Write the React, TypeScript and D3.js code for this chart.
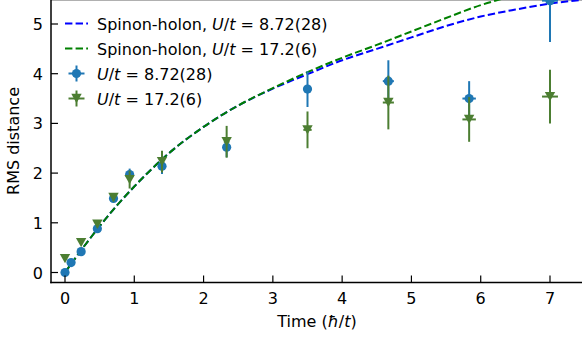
import React from "react";
import * as d3 from "d3";

const blueT = [0, 0.0875, 0.233, 0.467, 0.7, 0.933, 1.4, 2.333, 3.5, 4.667, 5.833, 7.0];
const blueV = [0, 0.2, 0.42, 0.88, 1.49, 1.97, 2.14, 2.52, 3.69, 3.85, 3.5, 5.47];
const blueErr = [0.02, 0.03, 0.04, 0.05, 0.06, 0.12, 0.16, 0.2, 0.36, 0.42, 0.35, 0.83];
const blueXErr = [0, 0.002, 0.004, 0.008, 0.012, 0.016, 0.024, 0.04, 0.06, 0.08, 0.097, 0.115];

const greenT = [0, 0.233, 0.467, 0.7, 0.933, 1.4, 2.333, 3.5, 4.667, 5.833, 7.0];
const greenV = [0.28, 0.6, 0.97, 1.51, 1.87, 2.23, 2.63, 2.87, 3.42, 3.08, 3.54];
const greenErr = [0.03, 0.04, 0.06, 0.08, 0.18, 0.22, 0.32, 0.37, 0.54, 0.45, 0.54];
const greenXErr = [0, 0.004, 0.008, 0.012, 0.016, 0.024, 0.04, 0.06, 0.08, 0.097, 0.115];

const curveT = [0, 0.25, 0.5, 0.75, 1.0, 1.5, 2.0, 2.5, 3.0, 3.5, 4.0, 4.5, 5.0, 5.5, 6.0, 6.5, 7.0, 7.5];
const curveBlue = [0, 0.48, 0.93, 1.35, 1.73, 2.4, 2.93, 3.36, 3.7, 3.99, 4.27, 4.5, 4.73, 4.96, 5.15, 5.29, 5.41, 5.49];
const curveGreen = [0, 0.48, 0.93, 1.35, 1.73, 2.4, 2.93, 3.36, 3.71, 4.03, 4.32, 4.58, 4.85, 5.12, 5.38, 5.58, 5.77, 5.95];

const xTicks = [0, 1, 2, 3, 4, 5, 6, 7];
const yTicks = [0, 1, 2, 3, 4, 5];

const W = 582;
const H = 337;
const LEFT = 51;
const BOTTOM = 282.5;
const FONT = "DejaVu Sans";
const FS = 16;

const BLUE = "#1f77b4";
const GREEN = "#4c7e32";

export default function App() {
  const x = d3.scaleLinear().domain([0, 7]).range([65, 550]);
  const y = d3.scaleLinear().domain([0, 5]).range([272.5, 24]);

  const lineB = d3
    .line<number>()
    .x((_, i) => x(curveT[i]))
    .y((d) => y(d))
    .curve(d3.curveMonotoneX);

  const tri = (cx: number, cy: number, r: number) =>
    `M${cx - r},${cy - r * 0.9} L${cx + r},${cy - r * 0.9} L${cx},${cy + r * 0.9} Z`;

  const errGroup = (
    ts: number[],
    vs: number[],
    es: number[],
    xes: number[],
    color: string,
    kind: "circle" | "tri"
  ) =>
    ts.map((t, i) => {
      const cx = x(t);
      const cy = y(vs[i]);
      return (
        <g key={i}>
          <line x1={cx} x2={cx} y1={y(vs[i] - es[i])} y2={y(vs[i] + es[i])} stroke={color} strokeWidth={2} />
          <line x1={x(t - xes[i])} x2={x(t + xes[i])} y1={cy} y2={cy} stroke={color} strokeWidth={2} />
          {kind === "circle" ? (
            <circle cx={cx} cy={cy} r={4.6} fill={color} />
          ) : (
            <path d={tri(cx, cy, 5.2)} fill={color} />
          )}
        </g>
      );
    });

  const legendItems = [
    { kind: "line", color: "#0000ff", pre: "Spinon-holon, ", val: "8.72(28)" },
    { kind: "line", color: "#008000", pre: "Spinon-holon, ", val: "17.2(6)" },
    { kind: "circle", color: BLUE, pre: "", val: "8.72(28)" },
    { kind: "tri", color: GREEN, pre: "", val: "17.2(6)" },
  ];

  return (
    <svg
      width={W}
      height={H}
      style={{ position: "fixed", left: 0, top: 0, background: "#fff" }}
      fontFamily={FONT}
    >
      <defs>
        <clipPath id="plot">
          <rect x={LEFT} y={0} width={W - LEFT} height={BOTTOM} />
        </clipPath>
      </defs>
      <rect x={0} y={0} width={W} height={H} fill="#fff" />
      <line x1={LEFT} x2={W} y1={0.5} y2={0.5} stroke="#b0b0b0" strokeWidth={1} />

      <g clipPath="url(#plot)">
        <path d={lineB(curveBlue) || ""} fill="none" stroke="#0000ff" strokeWidth={2} strokeDasharray="7.4,3.2" />
        <path d={lineB(curveGreen) || ""} fill="none" stroke="#008000" strokeWidth={2} strokeDasharray="7.4,3.2" />
        {errGroup(blueT, blueV, blueErr, blueXErr, BLUE, "circle")}
        {errGroup(greenT, greenV, greenErr, greenXErr, GREEN, "tri")}
      </g>

      {/* spines */}
      <line x1={LEFT} x2={LEFT} y1={0} y2={BOTTOM + 0.75} stroke="#000" strokeWidth={1.5} />
      <line x1={LEFT - 0.75} x2={W} y1={BOTTOM} y2={BOTTOM} stroke="#000" strokeWidth={1.5} />

      {/* ticks */}
      {xTicks.map((t) => (
        <g key={"x" + t}>
          <line x1={x(t)} x2={x(t)} y1={BOTTOM} y2={BOTTOM - 7} stroke="#000" strokeWidth={1.2} />
          <text x={x(t)} y={304} textAnchor="middle" fontSize={FS} fill="#000">
            {t}
          </text>
        </g>
      ))}
      {yTicks.map((t) => (
        <g key={"y" + t}>
          <line x1={LEFT} x2={LEFT + 7} y1={y(t)} y2={y(t)} stroke="#000" strokeWidth={1.2} />
          <text x={43} y={y(t) + 6} textAnchor="end" fontSize={FS} fill="#000">
            {t}
          </text>
        </g>
      ))}

      <text x={317} y={327} textAnchor="middle" fontSize={FS} fill="#000">
        Time (<tspan fontStyle="italic">ħ</tspan>/<tspan fontStyle="italic">t</tspan>)
      </text>
      <text
        transform={`translate(19,141) rotate(-90)`}
        textAnchor="middle"
        fontSize={FS}
        fill="#000"
      >
        RMS distance
      </text>

      {/* legend */}
      {legendItems.map((it, i) => {
        const cy = 23.5 + i * 25;
        const hx = 76.5;
        return (
          <g key={"lg" + i}>
            {it.kind === "line" ? (
              <line x1={65} x2={88} y1={cy} y2={cy} stroke={it.color} strokeWidth={2} strokeDasharray="7.4,3.2" />
            ) : (
              <g>
                <line x1={hx} x2={hx} y1={cy - 8} y2={cy + 8} stroke={it.color} strokeWidth={2} />
                <line x1={hx - 8} x2={hx + 8} y1={cy} y2={cy} stroke={it.color} strokeWidth={2} />
                {it.kind === "circle" ? (
                  <circle cx={hx} cy={cy} r={4.6} fill={it.color} />
                ) : (
                  <path d={tri(hx, cy, 5.2)} fill={it.color} />
                )}
              </g>
            )}
            <text x={97} y={cy + 6} fontSize={FS} fill="#000">
              {it.pre}
              <tspan fontStyle="italic">U</tspan>/<tspan fontStyle="italic">t</tspan>
              {" = " + it.val}
            </text>
          </g>
        );
      })}
    </svg>
  );
}
